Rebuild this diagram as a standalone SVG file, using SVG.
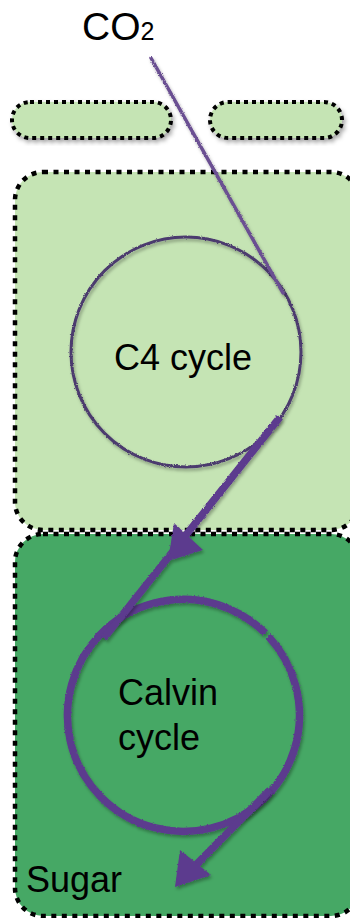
<svg xmlns="http://www.w3.org/2000/svg" width="350" height="918" viewBox="0 0 350 918">
  <defs>
    <style>
      .lbl { font-family: "Liberation Sans", Arial, sans-serif; fill: #000; }
      .cell-light { fill: #c5e4b4; stroke: #000; stroke-width: 4.5; stroke-dasharray: 5 5.5; }
      .cell-dark { fill: #46a865; stroke: #000; stroke-width: 4.5; stroke-dasharray: 5 5.5; }
      .pill { fill: #c5e4b4; stroke: #000; stroke-width: 4; stroke-dasharray: 4 4; }
      .flow-thin { fill: none; stroke: #6b4f92; stroke-width: 3.5; stroke-linecap: round; }
      .ring-thin { fill: none; stroke: #4c3b6e; stroke-width: 3; }
      .flow-thick { fill: none; stroke: #5c3a8e; stroke-width: 7.5; stroke-linecap: butt; }
      .head { fill: #5c3a8e; }
    </style>
    <filter id="shade" x="-20%" y="-20%" width="140%" height="140%">
      <feDropShadow dx="2" dy="3" stdDeviation="2" flood-color="#000" flood-opacity="0.35"/>
    </filter>
    <filter id="chalk" x="-10%" y="-10%" width="120%" height="120%">
      <feTurbulence type="fractalNoise" baseFrequency="0.9" numOctaves="2" seed="3" result="n"/>
      <feDisplacementMap in="SourceGraphic" in2="n" scale="2.5" xChannelSelector="R" yChannelSelector="G" result="d"/>
      <feDropShadow dx="1.5" dy="2.5" stdDeviation="1.5" flood-color="#000" flood-opacity="0.3"/>
    </filter>
  </defs>

  <!-- CO2 label -->
  <g id="co2">
    <text class="lbl" x="82" y="40" font-size="39">CO<tspan font-size="25">2</tspan></text>
  </g>

  <!-- chloroplast-like pills in the upper layer -->
  <g id="pill-left" filter="url(#shade)">
    <rect class="pill" x="12" y="102" width="159" height="36" rx="18"/>
  </g>
  <g id="pill-right" filter="url(#shade)">
    <rect class="pill" x="210" y="102" width="132" height="36" rx="18"/>
  </g>

  <!-- mesophyll cell -->
  <g id="mesophyll">
    <rect class="cell-light" x="15" y="172" width="344" height="358" rx="28"/>
  </g>

  <!-- bundle sheath cell -->
  <g id="bundle-sheath">
    <rect class="cell-dark" x="15" y="534" width="344" height="382" rx="28"/>
  </g>

  <!-- C4 cycle -->
  <g id="c4-cycle">
    <circle class="ring-thin" cx="186" cy="352" r="115" filter="url(#chalk)"/>
    <text class="lbl" x="183" y="370" font-size="36" text-anchor="middle">C4 cycle</text>
  </g>

  <!-- Calvin cycle -->
  <g id="calvin-cycle">
    <path class="flow-thick" filter="url(#chalk)" d="M 268.3 636.3 A 116 116 0 1 1 265.3 633.2"/>
    <text class="lbl" x="118" y="705" font-size="36">Calvin</text>
    <text class="lbl" x="118" y="750" font-size="36">cycle</text>
  </g>

  <!-- Sugar label -->
  <g id="sugar">
    <text class="lbl" x="26" y="892" font-size="36">Sugar</text>
  </g>

  <!-- connectors -->
  <g id="connectors" filter="url(#chalk)">
    <!-- CO2 entering the C4 cycle -->
    <path class="flow-thin" d="M 151 58 L 283 293"/>
    <!-- C4 product into the bundle sheath, joining the Calvin cycle -->
    <path class="flow-thick" d="M 280 417 Q 150 580 104 638"/>
    <polygon class="head" points="168,561 174,523 203,550"/>
    <!-- sugar leaving the Calvin cycle -->
    <path class="flow-thick" d="M 270 790 L 184 877"/>
    <polygon class="head" points="175,887 180,850 211,875"/>
  </g>
</svg>
